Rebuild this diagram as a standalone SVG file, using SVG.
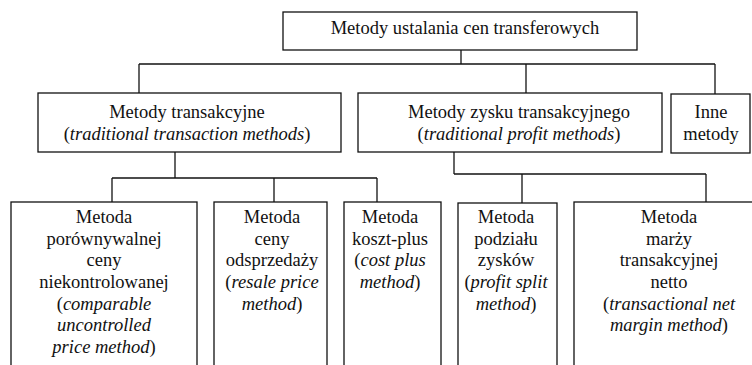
<svg xmlns="http://www.w3.org/2000/svg" width="752" height="365" viewBox="0 0 752 365">
<style>
rect{fill:#fff;stroke:#111;stroke-width:1.3}
.c line{stroke:#111;stroke-width:1.3}
text{font-family:"Times New Roman",Times,Tinos,"Liberation Serif","Noto Serif",FreeSerif,"DejaVu Serif",serif;font-size:18.5px;fill:#111;text-anchor:middle}
.i{font-style:italic}
</style>
<rect width="752" height="365" style="stroke:none"/>
<g class="c" id="connectors">
<line x1="461" y1="50" x2="461" y2="64"/>
<line x1="139" y1="64" x2="715" y2="64"/>
<line x1="139" y1="64" x2="139" y2="93"/>
<line x1="526" y1="64" x2="526" y2="93"/>
<line x1="715" y1="64" x2="715" y2="94"/>
<line x1="175" y1="152" x2="175" y2="178"/>
<line x1="112" y1="178" x2="377" y2="178"/>
<line x1="112" y1="178" x2="112" y2="202"/>
<line x1="274" y1="178" x2="274" y2="202"/>
<line x1="377" y1="178" x2="377" y2="202"/>
<line x1="454" y1="152" x2="454" y2="174"/>
<line x1="454" y1="174" x2="706" y2="174"/>
<line x1="522" y1="174" x2="522" y2="203"/>
<line x1="706" y1="174" x2="706" y2="202"/>
</g>
<g id="root">
<rect x="283" y="12" width="354" height="38"/>
<text x="465" y="34">Metody ustalania cen transferowych</text>
</g>
<g id="transakcyjne">
<rect x="38" y="93" width="303" height="59"/>
<text x="187" y="118">Metody transakcyjne</text>
<text x="187" y="140">(<tspan class="i">traditional transaction methods</tspan>)</text>
</g>
<g id="zysku">
<rect x="358" y="93" width="304" height="59"/>
<text x="519" y="118">Metody zysku transakcyjnego</text>
<text x="519" y="140">(<tspan class="i">traditional profit methods</tspan>)</text>
</g>
<g id="inne">
<rect x="671" y="94" width="79" height="59"/>
<text x="711" y="118">Inne</text>
<text x="711" y="140">metody</text>
</g>
<g id="cup">
<rect x="11" y="202" width="186" height="180"/>
<text x="104" y="223">Metoda</text>
<text x="104" y="245">porównywalnej</text>
<text x="104" y="266">ceny</text>
<text x="104" y="288">niekontrolowanej</text>
<text x="104" y="310">(<tspan class="i">comparable</tspan></text>
<text x="104" y="331" class="i">uncontrolled</text>
<text x="104" y="353"><tspan class="i">price method</tspan>)</text>
</g>
<g id="resale">
<rect x="214" y="202" width="113" height="180"/>
<text x="272" y="223">Metoda</text>
<text x="272" y="245">ceny</text>
<text x="272" y="266">odsprzedaży</text>
<text x="272" y="288">(<tspan class="i">resale price</tspan></text>
<text x="272" y="310"><tspan class="i">method</tspan>)</text>
</g>
<g id="costplus">
<rect x="344" y="202" width="97" height="180"/>
<text x="390" y="223">Metoda</text>
<text x="390" y="245">koszt-plus</text>
<text x="390" y="266">(<tspan class="i">cost plus</tspan></text>
<text x="390" y="288"><tspan class="i">method</tspan>)</text>
</g>
<g id="profitsplit">
<rect x="458" y="203" width="99" height="180"/>
<text x="506" y="223">Metoda</text>
<text x="506" y="245">podziału</text>
<text x="506" y="266">zysków</text>
<text x="506" y="288">(<tspan class="i">profit split</tspan></text>
<text x="506" y="310"><tspan class="i">method</tspan>)</text>
</g>
<g id="tnmm">
<rect x="574" y="202" width="200" height="180"/>
<text x="669" y="223">Metoda</text>
<text x="669" y="245">marży</text>
<text x="669" y="266">transakcyjnej</text>
<text x="669" y="288">netto</text>
<text x="669" y="310">(<tspan class="i">transactional net</tspan></text>
<text x="669" y="331"><tspan class="i">margin method</tspan>)</text>
</g>
</svg>
